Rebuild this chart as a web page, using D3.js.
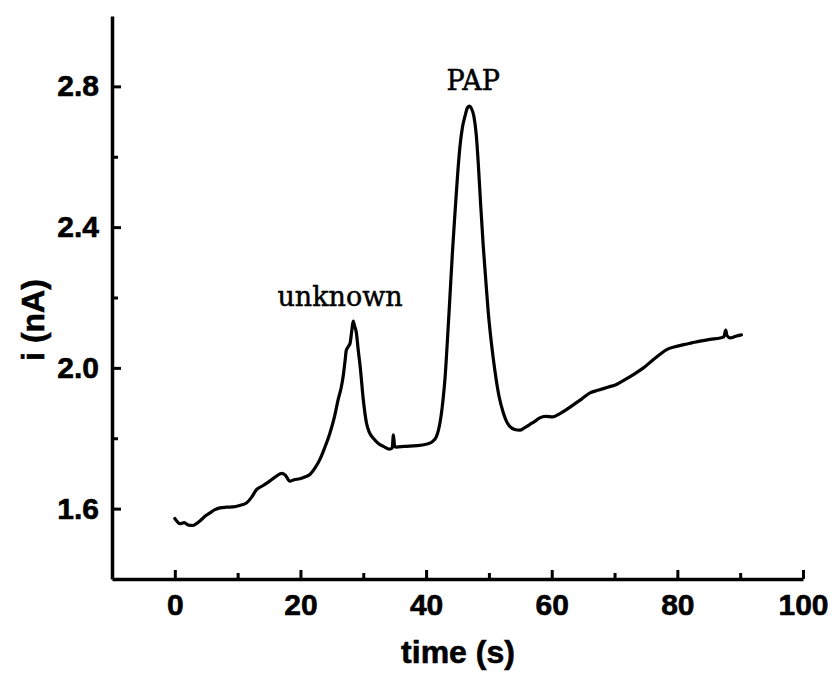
<!DOCTYPE html>
<html>
<head>
<meta charset="utf-8">
<script src="https://cdn.jsdelivr.net/npm/d3@7"></script>
<style>
  html, body { margin: 0; padding: 0; background: #fff; }
  svg { display: block; }
</style>
</head>
<body>
<div id="chart"></div>
<script>
// ---- data ----
const time = [0.0,0.3,0.8,1.5,2.2,2.9,3.5,4.0,4.8,5.6,6.4,7.2,8.2,9.3,10.3,11.4,12.2,13.0,14.0,15.1,16.0,17.0,17.6,18.3,19.0,19.9,20.7,21.5,22.3,23.1,23.9,24.7,25.4,26.0,26.5,26.8,27.1,27.3,27.6,27.9,28.2,28.4,28.6,28.9,29.2,29.5,30.0,30.5,31.0,31.6,32.4,33.2,34.2,34.6,34.8,35.0,35.3,36.5,38.5,40.0,40.6,41.1,41.6,42.0,42.4,42.7,43.0,43.4,43.8,44.2,44.6,45.0,45.4,45.8,46.2,46.6,46.9,47.2,47.6,48.0,48.3,48.7,49.1,49.5,49.9,50.4,51.0,51.6,52.3,52.8,53.3,54.1,54.9,55.7,56.5,57.3,58.1,59.0,60.2,61.3,62.4,63.6,64.8,66.1,67.5,68.9,70.3,71.6,73.0,74.6,76.2,77.2,78.3,79.6,81.0,82.3,83.6,85.2,86.8,87.4,87.7,87.9,88.4,89.3,90.2];
const current = [1.572,1.565,1.557,1.560,1.553,1.552,1.558,1.565,1.578,1.588,1.597,1.602,1.604,1.605,1.609,1.616,1.632,1.654,1.665,1.678,1.690,1.700,1.695,1.678,1.682,1.685,1.690,1.697,1.715,1.740,1.775,1.815,1.860,1.910,1.945,1.976,2.020,2.050,2.060,2.070,2.110,2.133,2.120,2.100,2.050,2.005,1.910,1.844,1.815,1.800,1.785,1.777,1.769,1.772,1.810,1.776,1.775,1.777,1.779,1.783,1.786,1.792,1.803,1.825,1.865,1.910,1.967,2.080,2.204,2.330,2.440,2.545,2.630,2.685,2.716,2.740,2.744,2.738,2.716,2.660,2.583,2.460,2.346,2.250,2.157,2.070,1.986,1.920,1.872,1.848,1.834,1.825,1.823,1.830,1.839,1.848,1.858,1.862,1.861,1.870,1.882,1.897,1.912,1.929,1.937,1.945,1.953,1.966,1.981,2.000,2.024,2.038,2.052,2.060,2.066,2.071,2.076,2.081,2.085,2.088,2.107,2.092,2.085,2.090,2.094];

const xMajorTicks = [0, 20, 40, 60, 80, 100];
const xMinorTicks = [10, 30, 50, 70, 90];
const yMajorTicks = [1.6, 2.0, 2.4, 2.8];
const yMinorTicks = [1.8, 2.2, 2.6];
const yTickLabels = ["1.6", "2.0", "2.4", "2.8"];

const annotationText = ["unknown", "PAP"];
const annotationTime = [26.3, 47.5];
const annotationCurrent = [2.177, 2.79];

const xTitle = "time (s)";
const yTitle = "i (nA)";

// ---- layout ----
const W = 833, H = 678;
const svg = d3.select("#chart").append("svg").attr("width", W).attr("height", H);
svg.append("rect").attr("width", W).attr("height", H).attr("fill", "#fff");

const x = d3.scaleLinear().domain([-10, 100]).range([112, 803]);
const y = d3.scaleLinear().domain([1.4, 3.0]).range([579, 16]);

const sansBold = "'Liberation Sans', Arial, Helvetica, sans-serif";

// x axis
svg.append("g").attr("transform", `translate(0,${y.range()[0]})`)
  .call(d3.axisBottom(x).tickValues(xMajorTicks).tickSizeInner(-9).tickSizeOuter(0).tickPadding(15).tickFormat(d3.format("d")));
svg.append("g").attr("transform", `translate(0,${y.range()[0]})`)
  .call(d3.axisBottom(x).tickValues(xMinorTicks).tickSizeInner(-6).tickSizeOuter(0).tickFormat(""))
  .select(".domain").remove();

// y axis
svg.append("g").attr("transform", `translate(${x.range()[0]},0)`)
  .call(d3.axisLeft(y).tickValues(yMajorTicks).tickSizeInner(-9).tickSizeOuter(0).tickPadding(13)
    .tickFormat((d, i) => yTickLabels[i]));
svg.append("g").attr("transform", `translate(${x.range()[0]},0)`)
  .call(d3.axisLeft(y).tickValues(yMinorTicks).tickSizeInner(-6).tickSizeOuter(0).tickFormat(""))
  .select(".domain").remove();

svg.selectAll(".domain").attr("stroke", "#000").attr("stroke-width", 3.5);
svg.selectAll(".tick line").attr("stroke", "#000").attr("stroke-width", 3);
svg.selectAll(".tick text").attr("fill", "#000").attr("stroke", "#000").attr("stroke-width", 0.6)
  .style("font-family", sansBold).style("font-weight", "bold").style("font-size", "30px");

// line
const pts = time.map((t, i) => [t, current[i]]);
svg.append("path").datum(pts)
  .attr("fill", "none").attr("stroke", "#000").attr("stroke-width", 3.2)
  .attr("stroke-linejoin", "round").attr("stroke-linecap", "round")
  .attr("d", d3.line().x(d => x(d[0])).y(d => y(d[1])).curve(d3.curveMonotoneX));

// annotations
svg.selectAll("text.anno").data(annotationText).enter().append("text")
  .attr("class", "anno")
  .attr("x", (d, i) => x(annotationTime[i]))
  .attr("y", (d, i) => y(annotationCurrent[i]))
  .attr("text-anchor", "middle")
  .attr("stroke", "#000").attr("stroke-width", 0.5)
  .style("font-family", "'DejaVu Serif', serif").style("font-size", "27px").attr("fill", "#000")
  .text(d => d);

// axis titles
svg.append("text").attr("x", 458).attr("y", 663).attr("text-anchor", "middle")
  .attr("stroke", "#000").attr("stroke-width", 0.6)
  .style("font-family", sansBold).style("font-weight", "bold").style("font-size", "32px")
  .text(xTitle);
svg.append("text").attr("transform", "translate(44,320) rotate(-90)").attr("text-anchor", "middle")
  .attr("stroke", "#000").attr("stroke-width", 0.6)
  .style("font-family", sansBold).style("font-weight", "bold").style("font-size", "32px")
  .text(yTitle);
</script>
</body>
</html>
